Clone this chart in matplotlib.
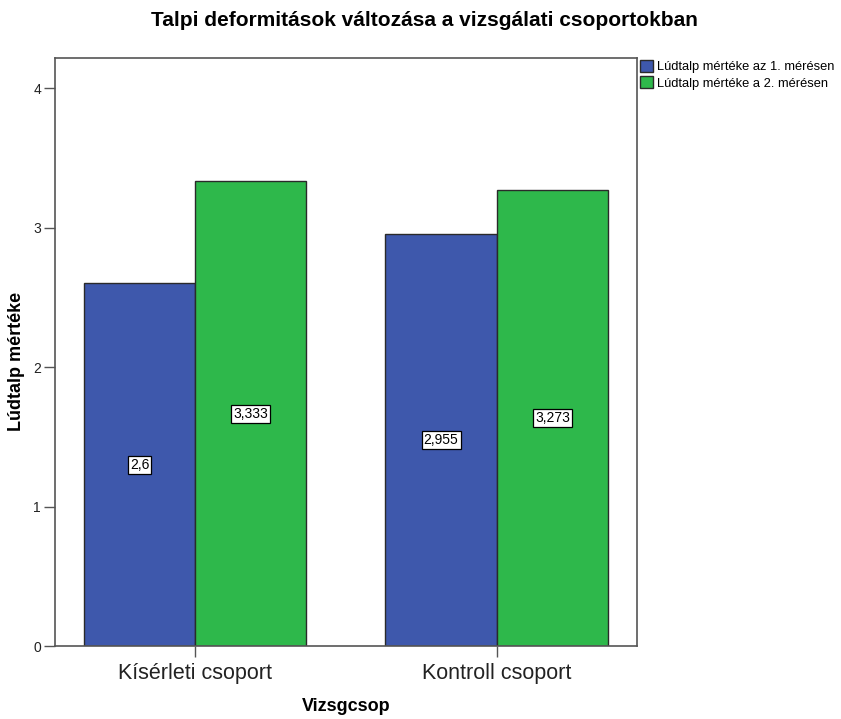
import numpy as np
import matplotlib.pyplot as plt

plt.rcParams['font.family'] = ['Liberation Sans', 'DejaVu Sans']

groups = ['Kísérleti csoport', 'Kontroll csoport']
series_names = ['Lúdtalp mértéke az 1. mérésen', 'Lúdtalp mértéke a 2. mérésen']
meres1 = [2.6, 2.955]
meres2 = [3.333, 3.273]
labels1 = ['2,6', '2,955']
labels2 = ['3,333', '3,273']
yticks = [0, 1, 2, 3, 4]

colors = ['#3e58ac', '#2eb84b']
width = 0.369

fig = plt.figure(figsize=(8.41, 7.19), dpi=100)
ax = fig.add_axes([0.0654, 0.1015, 0.692, 0.8175])

x = np.arange(len(groups))
b1 = ax.bar(x - width / 2, meres1, width, color=colors[0], edgecolor='#2a2a2a',
            linewidth=1.0, label=series_names[0], zorder=2)
b2 = ax.bar(x + width / 2, meres2, width, color=colors[1], edgecolor='#2a2a2a',
            linewidth=1.0, label=series_names[1], zorder=2)

# value labels in the middle of each bar
for bars, labs in [(b1, labels1), (b2, labels2)]:
    for rect, lab in zip(bars, labs):
        ax.text(rect.get_x() + rect.get_width() / 2, rect.get_height() / 2, lab,
                ha='center', va='center', fontsize=10, zorder=3,
                bbox=dict(boxstyle='square,pad=0.15', facecolor='white',
                          edgecolor='black', linewidth=0.9))

ax.set_xlim(-0.465, 1.465)
ax.set_ylim(0, 4.215)
ax.set_xticks(x)
ax.set_xticklabels(groups, fontsize=15.5, color='#222222')
ax.set_yticks(yticks)
ax.set_yticklabels([str(t) for t in yticks], fontsize=10, color='#222222')
ax.tick_params(axis='both', length=8, width=1, color='#555555')
ax.tick_params(axis='x', pad=4)
ax.tick_params(axis='y', pad=2)

for s in ax.spines.values():
    s.set_color('#555555')
    s.set_linewidth(1.2)

ax.set_ylabel('Lúdtalp mértéke', fontsize=13, fontweight='bold')
ax.yaxis.set_label_coords(-0.051, 0.485)
ax.set_xlabel('Vizsgcsop', fontsize=13, fontweight='bold', labelpad=10)
fig.text(0.505, 0.971, 'Talpi deformitások változása a vizsgálati csoportokban',
         ha='center', va='center', fontsize=15, fontweight='bold')

leg = ax.legend(loc='upper left', bbox_to_anchor=(1.006, 0.997), frameon=False,
                fontsize=9.3, handlelength=1.0, handleheight=1.0, handletextpad=0.25,
                labelspacing=0.25, borderaxespad=0, borderpad=0)

fig.savefig('out.png', dpi=100)
